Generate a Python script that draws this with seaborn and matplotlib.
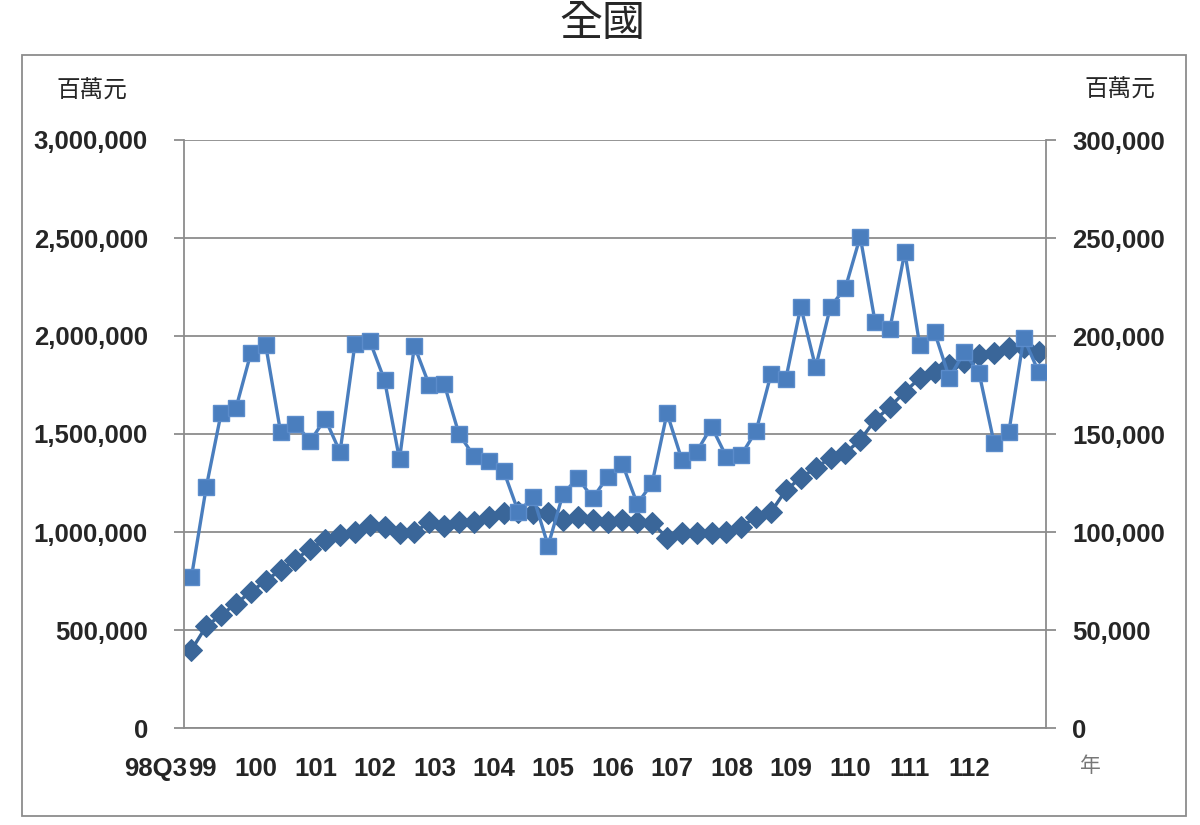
import numpy as np
import pandas as pd
import matplotlib
matplotlib.use("Agg")
import matplotlib.pyplot as plt
from matplotlib.patches import Rectangle
from matplotlib.ticker import FuncFormatter, FixedLocator
import seaborn as sns

# 季別: 98Q3 ~ 112Q4 (58 quarters)
quarters = [f"{y}Q{q}" for y in range(98, 113) for q in range(1, 5)][2:]

# 左軸 (百萬元)
left_vals = [770000, 1230000, 1607000, 1633000, 1913000, 1952000, 1508000, 1550000,
             1464000, 1578000, 1408000, 1959000, 1975000, 1773000, 1370000, 1949000,
             1750000, 1757000, 1500000, 1388000, 1362000, 1313000, 1102000, 1179000,
             930000, 1194000, 1276000, 1173000, 1281000, 1347000, 1143000, 1250000,
             1607000, 1368000, 1410000, 1538000, 1383000, 1393000, 1517000, 1806000,
             1783000, 2150000, 1840000, 2150000, 2245000, 2507000, 2071000, 2038000,
             2429000, 1954000, 2020000, 1786000, 1918000, 1811000, 1456000, 1510000,
             1990000, 1818000]

# 右軸 (百萬元)
right_vals = [39800, 52000, 57600, 63500, 69400, 75200, 80600, 85900,
              91500, 95900, 98300, 100000, 103600, 102600, 99700, 99800,
              105000, 103000, 105000, 105000, 107700, 109500, 110200, 109700,
              109700, 106000, 107700, 106000, 105000, 106000, 105000, 104800,
              96900, 99700, 99500, 99500, 100000, 102600, 107700, 110200,
              121400, 127600, 132700, 137800, 140300, 146900, 157100, 163900,
              171400, 178600, 181600, 185200, 186700, 190300, 191300, 193900,
              194400, 191800]

year_labels = [str(y) for y in range(99, 113)]

df = pd.DataFrame({"idx": np.arange(len(quarters)), "quarter": quarters,
                   "left": left_vals, "right": right_vals})

sns.set_style("white")
plt.rcParams["font.family"] = ["Liberation Sans", "Noto Sans CJK TC", "DejaVu Sans"]

fig = plt.figure(figsize=(12, 8.25), dpi=100)
ax = fig.add_axes([184 / 1200, 1 - 728 / 825, (1046 - 184) / 1200, (728 - 140) / 825])
ax2 = ax.twinx()
ax.set_zorder(2)
ax2.set_zorder(1)
ax.patch.set_visible(False)

grey = "#8c8c8c"
c_sq = "#4a7ebe"
c_di = "#3a6699"

sns.lineplot(data=df, x="idx", y="right", ax=ax2, color=c_di, linewidth=2.4,
             marker="D", markersize=11, markeredgecolor=c_di, markerfacecolor=c_di)
sns.lineplot(data=df, x="idx", y="left", ax=ax, color=c_sq, linewidth=2.4,
             marker="s", markersize=11, markeredgecolor="#5b8ccb", markerfacecolor=c_sq,
             markeredgewidth=1)

n = len(quarters)
for a in (ax, ax2):
    a.set_xlim(-0.5, n - 0.5)
    a.set_xlabel("")
    a.set_ylabel("")

ax.set_ylim(0, 3000000)
ax2.set_ylim(0, 300000)
ax.set_yticks(np.arange(0, 3000001, 500000))
ax2.set_yticks(np.arange(0, 300001, 50000))
fmt = FuncFormatter(lambda v, p: f"{int(v):,}")
ax.yaxis.set_major_formatter(fmt)
ax2.yaxis.set_major_formatter(fmt)

# 格線畫在下層軸
ax.grid(False)
ax2.grid(True, axis="y", color=grey, linewidth=1.3)
ax2.grid(False, axis="x")

for a in (ax, ax2):
    for s in a.spines.values():
        s.set_visible(False)
ax.spines["left"].set_visible(True)
ax.spines["bottom"].set_visible(True)
ax2.spines["right"].set_visible(True)
for s in (ax.spines["left"], ax.spines["bottom"], ax2.spines["right"]):
    s.set_color(grey)
    s.set_linewidth(1.3)

ax.tick_params(axis="y", which="major", length=7, color=grey, width=1.3,
               labelsize=18.5, pad=19)
ax2.tick_params(axis="y", which="major", length=7, color=grey, width=1.3,
                labelsize=18.5, pad=12)
for lab in ax.get_yticklabels() + ax2.get_yticklabels():
    lab.set_fontweight("bold")

# x 軸: 每季小刻度, 年別標籤
ax.xaxis.set_minor_locator(FixedLocator(np.arange(-0.5, n, 1.0)))
ax.tick_params(axis="x", which="minor", length=6, color=grey, width=1.2, direction="out")
tick_pos = [0.75] + [4.35 + 4 * k for k in range(len(year_labels) - 1)]
ax.set_xticks(tick_pos)
ax.set_xticklabels(year_labels, fontsize=18.5, fontweight="bold")
ax.tick_params(axis="x", which="major", length=0, pad=21)
ax2.tick_params(axis="x", which="both", length=0, labelbottom=False)

ax.annotate("98Q3", xy=(-2.42, 0), xycoords=ax.get_xaxis_transform(),
            xytext=(0, -21), textcoords="offset points", ha="center", va="top",
            fontsize=18.5, fontweight="bold", annotation_clip=False)

# 標題與單位
fig.text(602 / 1200, 1 - 24 / 825, "全國", ha="center", va="center", fontsize=31,
         family=["Noto Sans CJK TC", "DejaVu Sans"])
fig.text(92 / 1200, 1 - 91 / 825, "百萬元", ha="center", va="center", fontsize=17,
         family=["Noto Sans CJK TC", "DejaVu Sans"])
fig.text(1120 / 1200, 1 - 90 / 825, "百萬元", ha="center", va="center", fontsize=17,
         family=["Noto Sans CJK TC", "DejaVu Sans"])
fig.text(1090 / 1200, 1 - 766 / 825, "年", ha="center", va="center", fontsize=15,
         color="#777777", family=["Noto Sans CJK TC", "DejaVu Sans"])

fig.patches.append(Rectangle((22 / 1200, 1 - 816 / 825), (1186 - 22) / 1200,
                             (816 - 55) / 825, transform=fig.transFigure,
                             fill=False, edgecolor=grey, linewidth=1.3))

fig.savefig("out.png", dpi=100)
